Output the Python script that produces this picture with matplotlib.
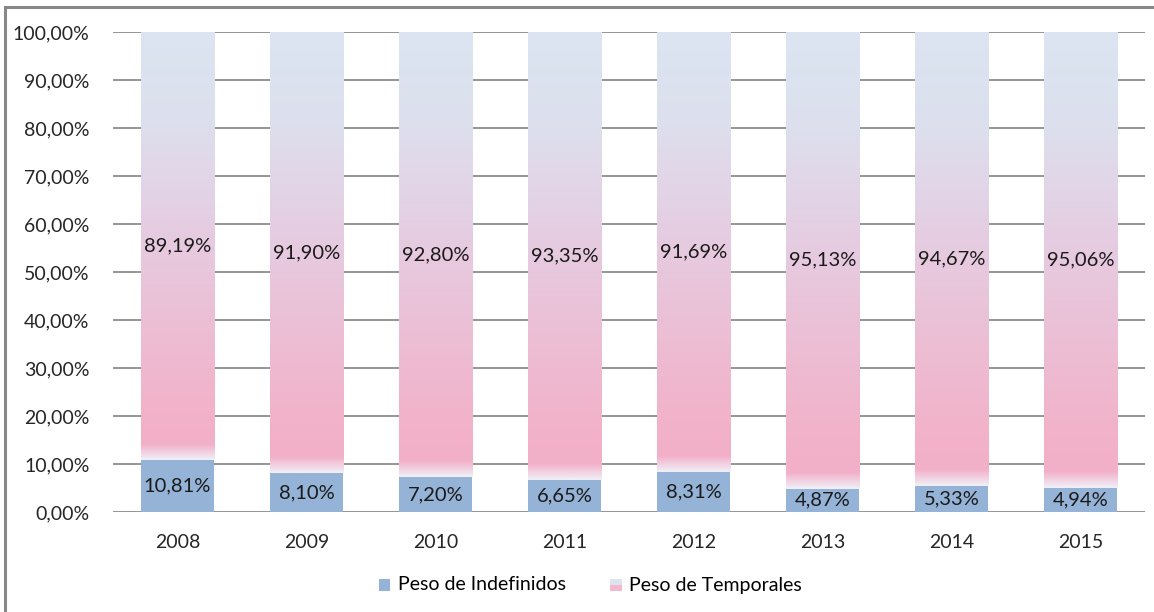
import numpy as np
import matplotlib.pyplot as plt
from matplotlib.colors import LinearSegmentedColormap
from matplotlib.patches import Rectangle
from matplotlib.legend_handler import HandlerBase

years = ['2008', '2009', '2010', '2011', '2012', '2013', '2014', '2015']
indefinidos = [10.81, 8.10, 7.20, 6.65, 8.31, 4.87, 5.33, 4.94]
temporales = [89.19, 91.90, 92.80, 93.35, 91.69, 95.13, 94.67, 95.06]
labels = ['Peso de Indefinidos', 'Peso de Temporales']

blue = '#95b3d7'
grad = LinearSegmentedColormap.from_list('temp', [
    (0.0, '#f0eef6'),
    (0.035, '#f3afc8'),
    (0.15, '#f1b4cb'),
    (0.55, '#e5cde2'),
    (0.8, '#dde0ee'),
    (1.0, '#dbe5f1'),
])

plt.rcParams['font.family'] = ['Lato', 'DejaVu Sans']


def fmt(v):
    return ('%.2f%%' % v).replace('.', ',')


class GradHandler(HandlerBase):
    def create_artists(self, legend, orig, xd, yd, w, h, fontsize, trans):
        s = h * 0.85
        x0 = xd + (w - s) / 2
        top = Rectangle((x0, yd + s / 2), s, s / 2, facecolor='#dce4f0',
                        edgecolor='none', transform=trans)
        bot = Rectangle((x0, yd), s, s / 2, facecolor='#f2b8cf',
                        edgecolor='none', transform=trans)
        return [top, bot]


class SquareHandler(HandlerBase):
    def create_artists(self, legend, orig, xd, yd, w, h, fontsize, trans):
        s = h * 0.85
        x0 = xd + (w - s) / 2
        return [Rectangle((x0, yd), s, s, facecolor=blue, edgecolor='none',
                          transform=trans)]


fig = plt.figure(figsize=(11.54, 6.12), dpi=100)
ax = fig.add_axes([113 / 1154, 100 / 612, 1032 / 1154, 480 / 612])

x = np.arange(len(years))
w = 0.57
ind = np.array(indefinidos) / 100
tmp = np.array(temporales) / 100

b1 = ax.bar(x, ind, width=w, color=blue, zorder=2, label=labels[0])
b2 = ax.bar(x, tmp, width=w, bottom=ind, color='none', zorder=2, label=labels[1])

g = np.linspace(0, 1, 256).reshape(-1, 1)
for rect in b2:
    x0, y0 = rect.get_x(), rect.get_y()
    im = ax.imshow(g, cmap=grad, origin='lower', aspect='auto', zorder=2,
                   extent=[x0, x0 + rect.get_width(), y0, y0 + rect.get_height()])
    im.set_clip_path(rect)

for i in range(len(years)):
    ax.text(x[i], ind[i] / 2, fmt(indefinidos[i]), ha='center', va='center',
            fontsize=14.5, color='#1a1a1a', zorder=3)
    ax.text(x[i], ind[i] + tmp[i] / 2, fmt(temporales[i]), ha='center', va='center',
            fontsize=14.5, color='#1a1a1a', zorder=3)

ax.set_xlim(-0.5, len(years) - 0.5)
ax.set_ylim(0, 1)
ax.set_yticks(np.arange(0, 1.01, 0.1))
ax.set_yticklabels([fmt(v) for v in np.arange(0, 101, 10)])
ax.set_xticks(x)
ax.set_xticklabels(years)
ax.tick_params(axis='both', length=0, labelsize=14, colors='#262626')
ax.tick_params(axis='y', pad=17)
ax.tick_params(axis='x', pad=16)
ax.yaxis.grid(True, color='#8c8c8c', linewidth=1.3, zorder=0)
ax.set_axisbelow(True)
for s in ax.spines.values():
    s.set_visible(False)

fig.legend([b1, b2], labels, loc='center', bbox_to_anchor=(590 / 1154, 1 - 585 / 612),
           ncol=2, frameon=False, fontsize=14, columnspacing=2.2,
           handlelength=0.7, handletextpad=0.35,
           handler_map={b1: SquareHandler(), b2: GradHandler()})

# outer chart frame (cut off at right and bottom)
fig.patches.append(Rectangle((5 / 1154, -0.1), 1.2, 1 - 7 / 612 + 0.1,
                             transform=fig.transFigure, fill=False,
                             edgecolor='#878787', linewidth=2.2))

fig.savefig('out.png', dpi=100)
